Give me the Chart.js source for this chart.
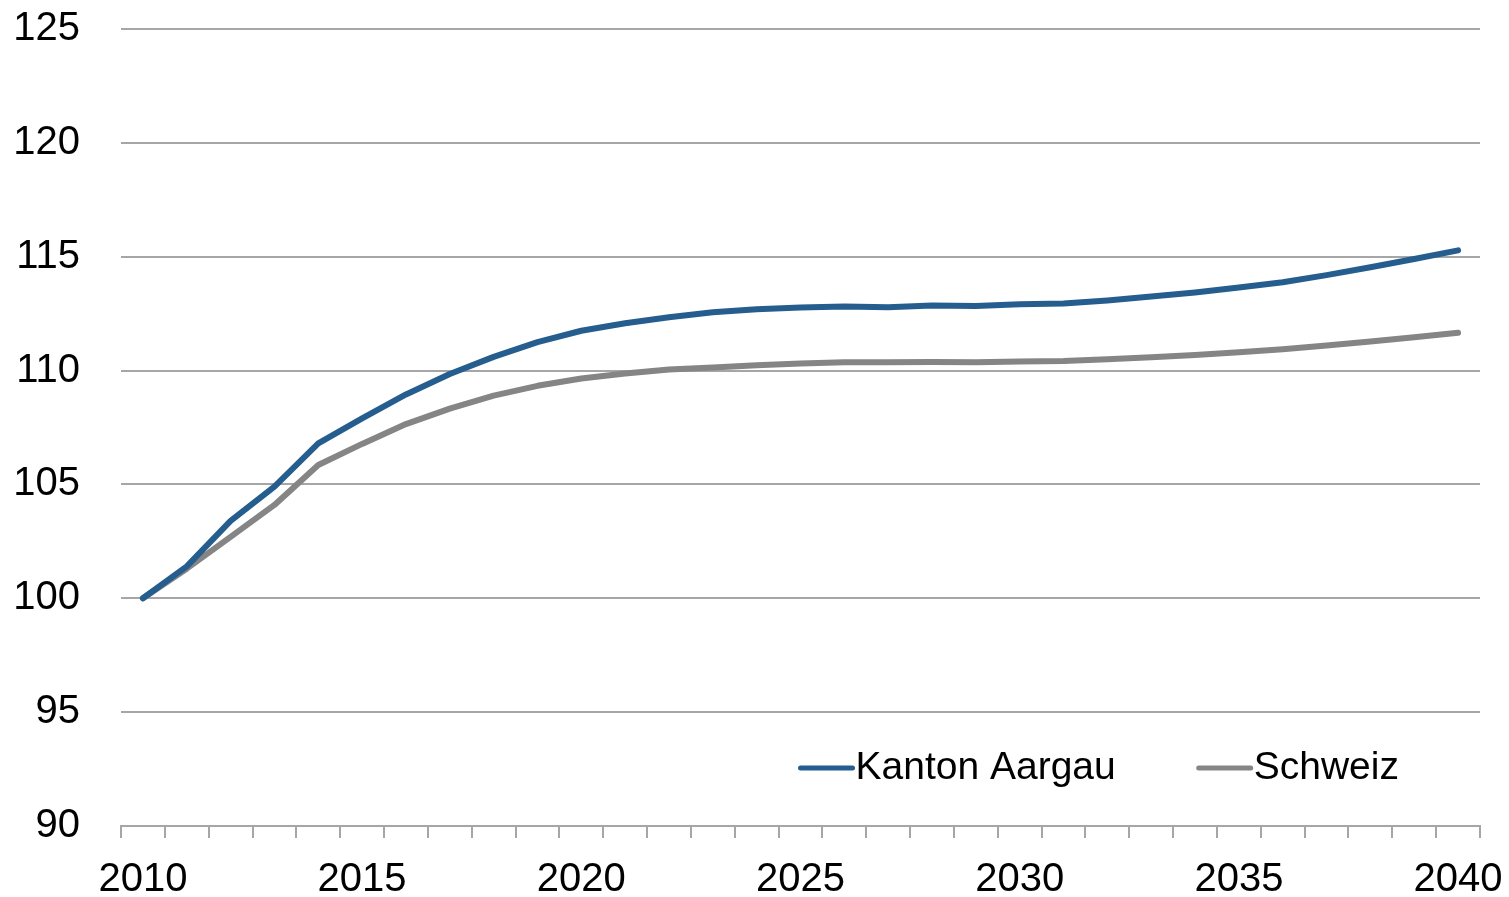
<!DOCTYPE html>
<html>
<head>
<meta charset="utf-8">
<script src="https://cdn.jsdelivr.net/npm/chart.js@4/dist/chart.umd.min.js"></script>
<style>
  html, body { margin: 0; padding: 0; background: #fff; }
  #wrap { width: 1509px; height: 897px; }
</style>
</head>
<body>
<div id="wrap"><canvas id="myChart"></canvas></div>
<script>
// years 2010..2040
const years = [2010, 2011, 2012, 2013, 2014, 2015, 2016, 2017, 2018, 2019, 2020,
  2021, 2022, 2023, 2024, 2025, 2026, 2027, 2028, 2029, 2030,
  2031, 2032, 2033, 2034, 2035, 2036, 2037, 2038, 2039, 2040];

// index, 2010 = 100
const aargau = [100, 101.4, 103.4, 104.9, 106.8, 107.9, 108.95, 109.85, 110.6, 111.25, 111.75,
  112.08, 112.34, 112.56, 112.69, 112.77, 112.81, 112.78, 112.86, 112.84, 112.91,
  112.95, 113.08, 113.25, 113.43, 113.65, 113.88, 114.19, 114.54, 114.9, 115.28];
const schweiz = [100, 101.3, 102.7, 104.1, 105.85, 106.78, 107.65, 108.33, 108.9, 109.33, 109.65,
  109.87, 110.05, 110.14, 110.23, 110.31, 110.36, 110.37, 110.38, 110.36, 110.4,
  110.42, 110.5, 110.58, 110.68, 110.8, 110.94, 111.1, 111.28, 111.46, 111.66];

const seriesNames = ['Kanton Aargau', 'Schweiz'];
const seriesColors = ['#255e8e', '#858585'];

const FONT = '"Liberation Sans", Arial, sans-serif';
const axisGrey = '#a6a6a6';

// legend drawn inside the plot, lower right
const innerLegend = {
  id: 'innerLegend',
  afterDraw(chart) {
    const ctx = chart.ctx;
    const area = chart.chartArea;
    let x = area.left + area.width * 0.5;
    const y = area.bottom - 58;
    ctx.save();
    ctx.font = '39px ' + FONT;
    ctx.textBaseline = 'middle';
    chart.data.datasets.forEach(ds => {
      ctx.strokeStyle = ds.borderColor;
      ctx.lineWidth = 5;
      ctx.lineCap = 'round';
      ctx.beginPath();
      ctx.moveTo(x, y);
      ctx.lineTo(x + 52, y);
      ctx.stroke();
      ctx.fillStyle = '#000';
      ctx.fillText(ds.label, x + 55, y);
      x += 55 + ctx.measureText(ds.label).width + 83;
    });
    ctx.restore();
  }
};

const chart = new Chart(document.getElementById('myChart'), {
  type: 'line',
  data: {
    labels: years,
    datasets: [
      { label: seriesNames[0], data: aargau, borderColor: seriesColors[0], borderWidth: 6 },
      { label: seriesNames[1], data: schweiz, borderColor: seriesColors[1], borderWidth: 6 }
    ]
  },
  options: {
    responsive: true,
    maintainAspectRatio: false,
    animation: false,
    layout: { padding: { top: 29, right: 29, left: 0, bottom: 0 } },
    elements: {
      point: { radius: 0 },
      line: { tension: 0, borderCapStyle: 'round', borderJoinStyle: 'round' }
    },
    plugins: {
      legend: { display: false },
      tooltip: { enabled: false }
    },
    scales: {
      x: {
        offset: true,
        grid: {
          offset: true,
          drawOnChartArea: false,
          tickLength: 12,
          color: axisGrey,
          lineWidth: 2
        },
        border: { color: axisGrey, width: 2 },
        ticks: {
          autoSkip: false,
          maxRotation: 0,
          padding: 18,
          color: '#000',
          font: { family: FONT, size: 40 },
          callback: function (v, i) {
            const yr = years[i];
            return yr % 5 === 0 ? String(yr) : '';
          }
        },
        afterFit(scale) {
          scale.height = 71;
          scale.paddingLeft = 0;
          scale.paddingRight = 0;
        }
      },
      y: {
        min: 90,
        max: 125,
        ticks: {
          stepSize: 5,
          padding: 41,
          color: '#000',
          font: { family: FONT, size: 40 }
        },
        grid: { drawTicks: false, color: axisGrey, lineWidth: 2 },
        border: { display: false },
        afterFit(scale) {
          scale.width = 121;
          scale.paddingTop = 0;
          scale.paddingBottom = 0;
        }
      }
    }
  },
  plugins: [innerLegend]
});
</script>
</body>
</html>
